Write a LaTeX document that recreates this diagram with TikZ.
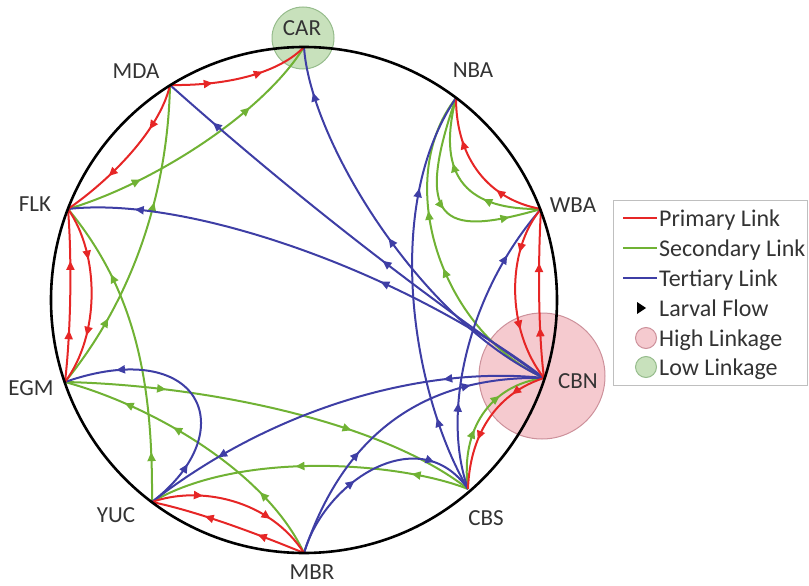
\documentclass[tikz,border=0pt]{standalone}
\usepackage{fontspec}
\setmainfont{Carlito}
\usetikzlibrary{decorations.markings,arrows.meta}
\definecolor{cred}{RGB}{230,38,38}
\definecolor{cgreen}{RGB}{112,178,52}
\definecolor{cblue}{RGB}{62,62,165}
\definecolor{pinkfill}{RGB}{245,202,207}
\definecolor{pinkline}{RGB}{205,145,155}
\definecolor{lgfill}{RGB}{200,225,188}
\definecolor{lgline}{RGB}{150,188,140}
\tikzset{
  link/.style={line width=2pt},
  prim/.style={link, draw=cred},
  sec/.style={link, draw=cgreen},
  ter/.style={link, draw=cblue},
  flow/.style 2 args={postaction={decorate,decoration={markings,
      mark=at position #1 with {\arrow{Triangle[length=9pt,width=8pt]}},
      mark=at position #2 with {\arrow{Triangle[length=9pt,width=8pt]}}}}},
  flowthree/.style n args={3}{postaction={decorate,decoration={markings,
      mark=at position #1 with {\arrow{Triangle[length=9pt,width=8pt]}},
      mark=at position #2 with {\arrow{Triangle[length=9pt,width=8pt]}},
      mark=at position #3 with {\arrow{Triangle[length=9pt,width=8pt]}}}}},
  lbl/.style={font=\fontsize{23}{27}\selectfont, text=black!80, inner sep=0pt},
  legtext/.style={font=\fontsize{24}{28}\selectfont, text=black!80, inner sep=0pt, anchor=base west},
}
\begin{document}
\begin{tikzpicture}[x=1pt,y=-1pt]
\useasboundingbox (0,0) rectangle (809,586);
% linkage circles
\filldraw[fill=pinkfill, draw=pinkline, line width=1pt] (542,376) circle[radius=63pt];
\filldraw[fill=lgfill, draw=lgline, line width=1pt] (303,38) circle[radius=31pt];
% sites
\coordinate (CAR) at (304,47);
\coordinate (NBA) at (456,98);
\coordinate (WBA) at (541,209);
\coordinate (CBN) at (544,378);
\coordinate (CBS) at (468,489);
\coordinate (MBR) at (304,553);
\coordinate (YUC) at (152,502);
\coordinate (EGM) at (65,382);
\coordinate (FLK) at (68,209);
\coordinate (MDA) at (170,85);
% secondary links
\draw[sec,flow={0.27}{0.72}] (FLK) .. controls (150,185) and (262,115) .. (CAR);
\draw[sec,flow={0.24}{0.63}] (EGM) .. controls (140,290) and (168,180) .. (MDA);
\draw[sec,flow={0.16}{0.75}] (YUC) .. controls (153,380) and (135,290) .. (FLK);
\draw[sec,flow={0.24}{0.69}] (EGM) .. controls (200,385) and (380,420) .. (CBS);
\draw[sec,flowthree={0.25}{0.61}{0.79}] (MBR) .. controls (265,470) and (150,405) .. (EGM);
\draw[sec,flow={0.18}{0.54}] (CBS) .. controls (400,462) and (240,450) .. (YUC);
\draw[sec,flow={0.4}{0.68}] (CBS) .. controls (460,430) and (490,385) .. (CBN);
\draw[sec,flow={0.46}{0.64}] (CBN) .. controls (440,330) and (392,180) .. (NBA);
\draw[sec,flow={0.34}{0.62}] (WBA) .. controls (470,210) and (435,180) .. (NBA);
\draw[sec,flow={0.53}{0.85}] (NBA) .. controls (410,230) and (450,235) .. (WBA);
% tertiary links
\draw[ter,flow={0.42}{0.88}] (CBN) .. controls (413,288) and (289,191) .. (MDA);
\draw[ter,flow={0.5}{0.89}] (CBN) .. controls (420,320) and (310,140) .. (CAR);
\draw[ter,flow={0.37}{0.87}] (CBN) .. controls (410,275) and (190,195) .. (FLK);
\draw[ter,flow={0.19}{0.76}] (CBS) .. controls (415,400) and (380,210) .. (NBA);
\draw[ter,flow={0.29}{0.81}] (CBS) .. controls (440,410) and (470,290) .. (WBA);
\draw[ter,flow={0.24}{0.81}] (CBN) .. controls (420,365) and (270,410) .. (YUC);
\draw[ter,flow={0.36}{0.77}] (MBR) .. controls (335,460) and (400,375) .. (CBN);
\draw[ter,flow={0.41}{0.8}] (MBR) .. controls (325,480) and (420,420) .. (CBS);
\draw[ter,flow={0.2}{0.8}] (YUC) .. controls (245,430) and (200,335) .. (EGM);
% primary links
\draw[prim,flow={0.3}{0.66}] (MDA) .. controls (230,86) and (280,72) .. (CAR);
\draw[prim,flow={0.3}{0.68}] (MDA) .. controls (160,130) and (110,180) .. (FLK);
\draw[prim,flow={0.3}{0.7}] (EGM) .. controls (71,330) and (72,260) .. (FLK);
\draw[prim,flow={0.3}{0.72}] (FLK) .. controls (100,255) and (100,335) .. (EGM);
\draw[prim,flow={0.3}{0.72}] (YUC) .. controls (200,485) and (270,500) .. (MBR);
\draw[prim,flow={0.31}{0.66}] (MBR) .. controls (260,535) and (200,512) .. (YUC);
\draw[prim,flow={0.25}{0.65}] (CBN) .. controls (500,392) and (470,430) .. (CBS);
\draw[prim,flow={0.3}{0.68}] (CBN) .. controls (538,330) and (538,260) .. (WBA);
\draw[prim,flow={0.27}{0.7}] (WBA) .. controls (506,250) and (506,330) .. (CBN);
\draw[prim,flow={0.32}{0.72}] (WBA) .. controls (490,200) and (456,160) .. (NBA);
% ring
\draw[line width=2.6pt] (304,300) circle[radius=253pt];
% labels
\node[lbl] (lCAR) at (302,28) {CAR};
\node[lbl] (lMDA) at (136,71) {MDA};
\node[lbl] (lNBA) at (473,70) {NBA};
\node[lbl] (lWBA) at (573,205) {WBA};
\node[lbl] (lCBN) at (578,381) {CBN};
\node[lbl] (lCBS) at (486,518) {CBS};
\node[lbl] (lMBR) at (312,572) {MBR};
\node[lbl] (lYUC) at (116,515) {YUC};
\node[lbl] (lEGM) at (31,388) {EGM};
\node[lbl] (lFLK) at (35,204) {FLK};
% legend
\node[draw=black!25, line width=1.2pt, minimum width=194pt, minimum height=185pt, anchor=north west, inner sep=0pt] (legend) at (613,200) {};
\draw[prim] (623,218) -- (657,218);
\draw[sec] (623,248) -- (657,248);
\draw[ter] (623,278) -- (657,278);
\fill[black] (637,302) -- (646,308) -- (637,314) -- cycle;
\filldraw[fill=pinkfill, draw=pinkline, line width=1pt] (646,338) circle[radius=10.5pt];
\filldraw[fill=lgfill, draw=lgline, line width=1pt] (646,367) circle[radius=10.5pt];
\node[legtext] (k1) at (659,226) {Primary Link};
\node[legtext] (k2) at (659,256) {Secondary Link};
\node[legtext] (k3) at (659,286) {Tertiary Link};
\node[legtext] (k4) at (659,316) {Larval Flow};
\node[legtext] (k5) at (659,346) {High Linkage};
\node[legtext] (k6) at (659,375) {Low Linkage};
\end{tikzpicture}
\end{document}
